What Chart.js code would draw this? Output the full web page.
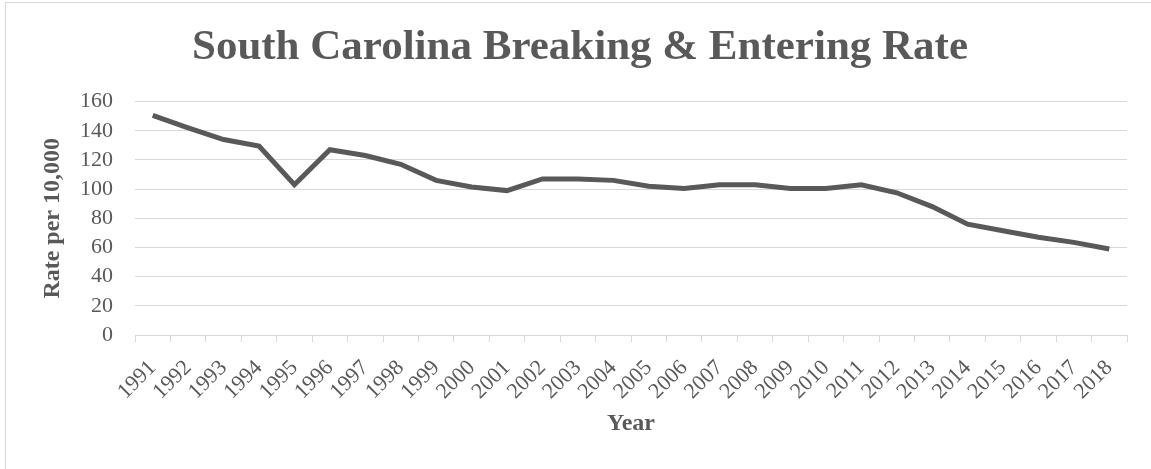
<!DOCTYPE html>
<html>
<head>
<meta charset="utf-8">
<script src="https://cdn.jsdelivr.net/npm/chart.js@4.4.1/dist/chart.umd.min.js"></script>
<style>
  html, body { margin: 0; padding: 0; background: #ffffff; overflow: hidden; }
  #wrap { position: relative; width: 1151px; height: 469px; }
  #frame { position: absolute; left: 5px; top: 2px; width: 1170px; height: 490px; border: 1px solid #d9d9d9; box-sizing: border-box; pointer-events: none; }
  canvas { position: absolute; left: 0; top: 0; }
</style>
</head>
<body>
<div id="wrap">
  <div id="frame"></div>
  <canvas id="c" width="1151" height="469"></canvas>
</div>
<script>
const chartTitle = "South Carolina Breaking & Entering Rate";
const xAxisTitle = "Year";
const yAxisTitle = "Rate per 10,000";
const years = ["1991","1992","1993","1994","1995","1996","1997","1998","1999","2000",
               "2001","2002","2003","2004","2005","2006","2007","2008","2009","2010",
               "2011","2012","2013","2014","2015","2016","2017","2018"];
const rates = [150.5, 142, 134, 129.5, 103, 127, 123, 117, 106, 101.5,
               99, 107, 107, 106, 102, 100.5, 103, 103, 100.5, 100.5,
               103, 97.5, 88, 76, 71.5, 67, 63.5, 59];
const yMin = 0, yMax = 160, yStep = 20;

const textColor = "#595959";
const gridColor = "#d9d9d9";
const serif = "'Liberation Serif', 'Times New Roman', serif";

new Chart(document.getElementById("c"), {
  type: "line",
  data: {
    labels: years,
    datasets: [{
      data: rates,
      borderColor: "#595959",
      borderWidth: 5,
      pointRadius: 0,
      tension: 0,
      fill: false
    }]
  },
  options: {
    responsive: false,
    animation: false,
    devicePixelRatio: 1,
    layout: { padding: { left: 9, right: 0, top: 0, bottom: 0 } },
    plugins: {
      legend: { display: false },
      tooltip: { enabled: false },
      title: {
        display: true,
        text: chartTitle,
        color: textColor,
        font: { family: serif, size: 43, weight: "bold", lineHeight: 1.2 },
        padding: { top: 22, bottom: 28 }
      }
    },
    scales: {
      x: {
        type: "category",
        offset: true,
        grid: {
          offset: true,
          drawOnChartArea: false,
          drawTicks: true,
          tickLength: 7,
          color: gridColor,
          lineWidth: 1
        },
        border: { display: true, color: gridColor, width: 1 },
        ticks: {
          color: textColor,
          font: { family: serif, size: 22 },
          minRotation: 45,
          maxRotation: 45,
          autoSkip: false,
          padding: 13
        },
        title: {
          display: true,
          text: xAxisTitle,
          color: textColor,
          font: { family: serif, size: 24, weight: "bold", lineHeight: 1.2 },
          padding: { top: 0, bottom: 31 }
        },
        afterFit: (s) => { s.height = 134; }
      },
      y: {
        min: yMin,
        max: yMax,
        grid: {
          drawTicks: false,
          color: gridColor,
          lineWidth: 1
        },
        border: { display: false },
        ticks: {
          stepSize: yStep,
          autoSkip: false,
          color: textColor,
          font: { family: serif, size: 22 },
          padding: 22
        },
        title: {
          display: true,
          text: yAxisTitle,
          color: textColor,
          font: { family: serif, size: 24, weight: "bold", lineHeight: 1.2 },
          padding: { top: 29, bottom: 0 }
        },
        afterFit: (s) => { s.width = 126; }
      },
      rightSpace: {
        type: "linear",
        position: "right",
        display: true,
        grid: { display: false, drawTicks: false },
        border: { display: false },
        ticks: { display: false },
        afterFit: (s) => { s.width = 24; }
      }
    }
  }
});
</script>
</body>
</html>
